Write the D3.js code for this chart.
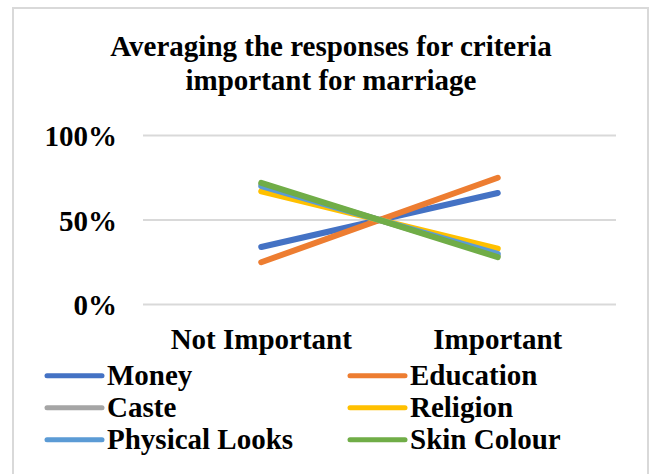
<!DOCTYPE html>
<html><head><meta charset="utf-8">
<script src="https://cdn.jsdelivr.net/npm/d3@7"></script>
<style>body{margin:0;background:#fff}svg{display:block}text{font-family:"Liberation Serif","Times New Roman",serif;font-weight:bold;fill:#000}</style>
</head><body><svg id="c" width="654" height="474"></svg>
<script>
const categories = ["Not Important", "Important"];
const seriesNames = ["Money", "Education", "Caste", "Religion", "Physical Looks", "Skin Colour"];
const money = [34, 66];
const education = [25, 75];
const caste = [71, 29];
const religion = [67, 33];
const physicalLooks = [70, 30];
const skinColour = [72, 28];
const colors = ["#4472C4", "#ED7D31", "#A5A5A5", "#FFC000", "#5B9BD5", "#70AD47"];
const yTicks = [0, 50, 100];
const titleLines = ["Averaging the responses for criteria", "important for marriage"];

const series = [money, education, caste, religion, physicalLooks, skinColour].map((v, i) => ({name: seriesNames[i], values: v, color: colors[i]}));

const svg = d3.select("#c");
svg.append("rect").attr("x", 13).attr("y", 8).attr("width", 635).attr("height", 480)
  .attr("fill", "#fff").attr("stroke", "#d9d9d9").attr("stroke-width", 2);

const x = d3.scaleBand().domain(categories).range([143, 616]);
const y = d3.scaleLinear().domain([0, 100]).range([304.5, 135.5]);

// title
const t = svg.append("text").attr("text-anchor", "middle").style("font-size", "29px");
titleLines.forEach((l, i) => t.append("tspan").attr("x", 331).attr("y", 56 + i * 34).text(l));

// gridlines
const yAxis = d3.axisLeft(y).tickValues(yTicks).tickFormat(d => d + "%").tickSize(0).tickPadding(26);
svg.append("g").selectAll("line").data(yTicks).join("line")
  .attr("x1", 143).attr("x2", 616).attr("y1", d => y(d)).attr("y2", d => y(d))
  .attr("stroke", "#d9d9d9").attr("stroke-width", 2);
const ya = svg.append("g").attr("transform", "translate(143,0)").call(yAxis);
ya.select(".domain").remove();
ya.selectAll("text").style("font-size", "29px").attr("font-family", null).attr("dy", "0.35em");

const xa = svg.append("g").attr("transform", "translate(0,304.5)").call(d3.axisBottom(x).tickSize(0).tickPadding(0));
xa.select(".domain").remove();
xa.selectAll("text").style("font-size", "29px").attr("dy", null).attr("y", 44.5);

const line = d3.line().x((d, i) => x(categories[i]) + x.bandwidth() / 2).y(d => y(d));
svg.append("g").selectAll("path").data(series).join("path")
  .attr("d", d => line(d.values)).attr("fill", "none").attr("stroke", d => d.color)
  .attr("stroke-width", 6).attr("stroke-linecap", "round");

// legend
const lg = svg.append("g").selectAll("g").data(series).join("g")
  .attr("transform", (d, i) => `translate(${i % 2 === 0 ? 47 : 350},${375.7 + Math.floor(i / 2) * 32})`);
lg.append("line").attr("x1", 0).attr("x2", 55).attr("stroke", d => d.color).attr("stroke-width", 5).attr("stroke-linecap", "round");
lg.append("text").attr("x", 60).attr("y", 9.5).style("font-size", "29px").text(d => d.name);
</script></body></html>
